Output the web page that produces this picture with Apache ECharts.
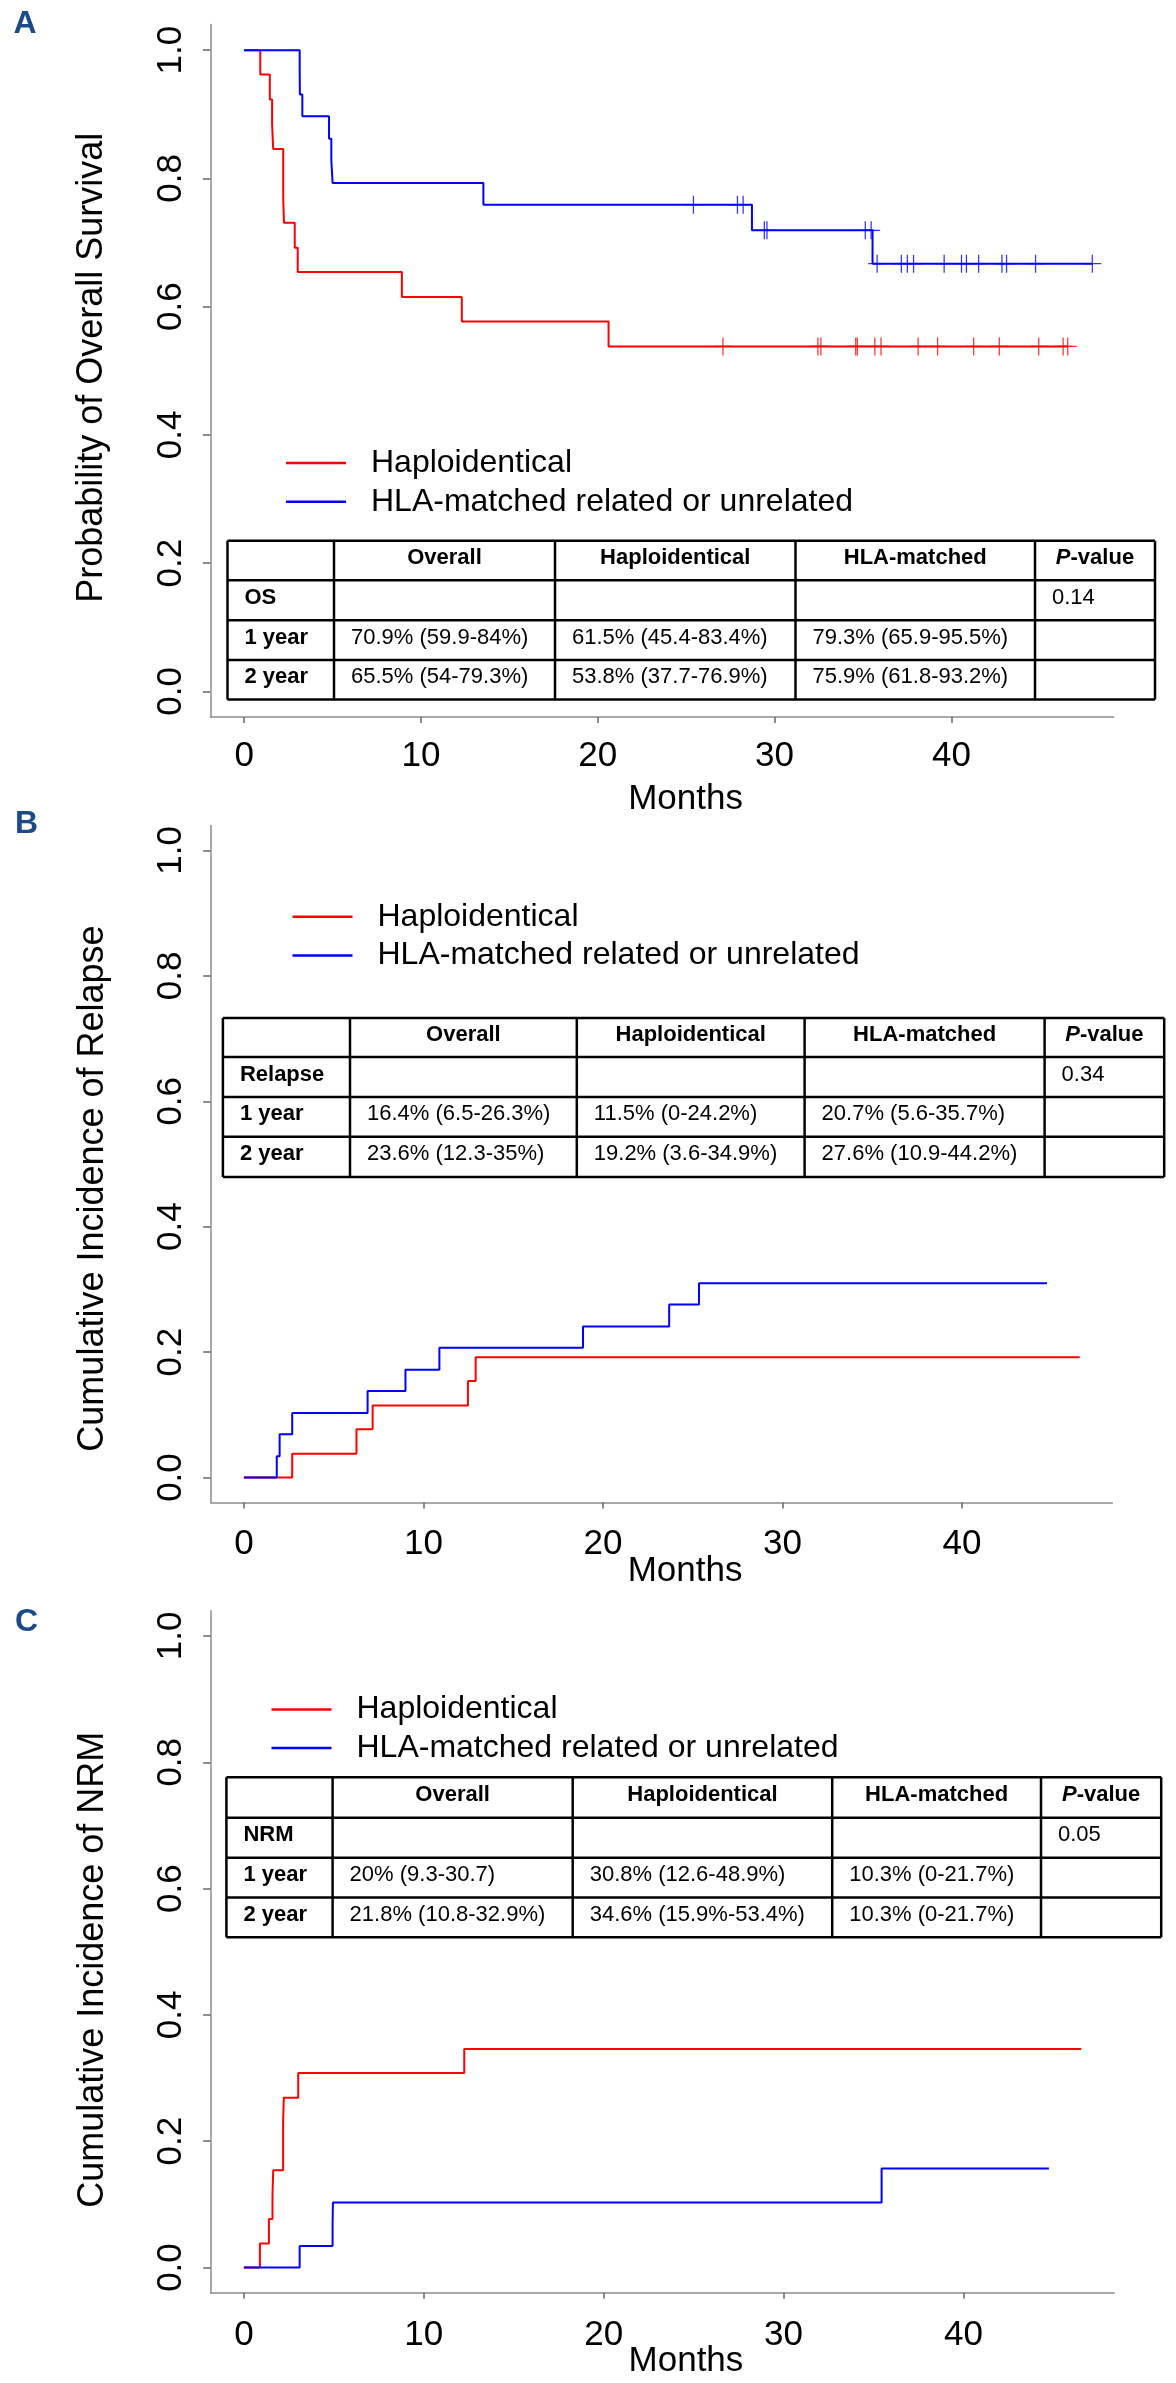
<!DOCTYPE html>
<html>
<head>
<meta charset="utf-8">
<script src="https://cdn.jsdelivr.net/npm/echarts@6/dist/echarts.min.js"></script>
<style>
html,body{margin:0;padding:0;background:#ffffff;}
#chart{width:1176px;height:2383px;}
</style>
</head>
<body>
<div id="chart"></div>
<script>
// ---------------- DATA ----------------
const seriesNames = ['Haploidentical', 'HLA-matched related or unrelated'];
const xTicks = [0, 10, 20, 30, 40];
const yTicks = [0, 0.2, 0.4, 0.6, 0.8, 1.0];
const panelLetters = ['A', 'B', 'C'];
const yTitles = ['Probability of Overall Survival', 'Cumulative Incidence of Relapse', 'Cumulative Incidence of NRM'];
const xTitle = 'Months';

// Panel A: overall survival (Kaplan-Meier)
const osHaploT = [0, 0.91, 1.45, 1.58, 1.64, 2.21, 2.25, 2.86, 3.03, 8.92, 12.31, 20.61, 46.58];
const osHaploS = [1, 0.962, 0.923, 0.885, 0.846, 0.769, 0.731, 0.692, 0.654, 0.615, 0.577, 0.538, 0.538];
const osHaploCensor = [27.08, 32.45, 32.62, 34.59, 34.68, 35.67, 36.02, 38.12, 39.22, 41.26, 42.71, 44.94, 46.32, 46.58];
const osHlaT = [0, 3.14, 3.15, 3.29, 4.80, 4.93, 5.00, 13.53, 28.72, 35.54, 47.97];
const osHlaS = [1, 0.966, 0.931, 0.897, 0.862, 0.828, 0.793, 0.759, 0.719, 0.667, 0.667];
const osHlaCensor = [25.41, 27.90, 28.22, 29.42, 29.57, 35.13, 35.46, 35.80, 37.17, 37.51, 37.86, 39.59, 40.57, 40.85, 41.54, 42.86, 43.12, 44.76, 47.97];

// Panel B: cumulative incidence of relapse
const relHaploT = [0, 2.69, 6.27, 7.17, 12.48, 12.91, 46.56];
const relHaploV = [0, 0.038, 0.077, 0.115, 0.154, 0.192, 0.192];
const relHlaT = [0, 1.83, 1.99, 2.69, 6.89, 9.00, 10.89, 18.89, 23.69, 25.35, 44.74];
const relHlaV = [0, 0.034, 0.069, 0.103, 0.138, 0.172, 0.207, 0.241, 0.276, 0.310, 0.310];

// Panel C: cumulative incidence of NRM
const nrmHaploT = [0, 0.89, 1.39, 1.59, 1.63, 2.18, 2.22, 3.02, 12.25, 46.55];
const nrmHaploV = [0, 0.038, 0.077, 0.115, 0.154, 0.231, 0.269, 0.308, 0.346, 0.346];
const nrmHlaT = [0, 3.10, 4.93, 4.95, 35.45, 44.75];
const nrmHlaV = [0, 0.034, 0.069, 0.103, 0.157, 0.157];

// Tables
const tableHeader = ['', 'Overall', 'Haploidentical', 'HLA-matched', 'P-value'];
const tableA = [
  ['OS', '', '', '', '0.14'],
  ['1 year', '70.9% (59.9-84%)', '61.5% (45.4-83.4%)', '79.3% (65.9-95.5%)', ''],
  ['2 year', '65.5% (54-79.3%)', '53.8% (37.7-76.9%)', '75.9% (61.8-93.2%)', '']
];
const tableB = [
  ['Relapse', '', '', '', '0.34'],
  ['1 year', '16.4% (6.5-26.3%)', '11.5% (0-24.2%)', '20.7% (5.6-35.7%)', ''],
  ['2 year', '23.6% (12.3-35%)', '19.2% (3.6-34.9%)', '27.6% (10.9-44.2%)', '']
];
const tableC = [
  ['NRM', '', '', '', '0.05'],
  ['1 year', '20% (9.3-30.7)', '30.8% (12.6-48.9%)', '10.3% (0-21.7%)', ''],
  ['2 year', '21.8% (10.8-32.9%)', '34.6% (15.9%-53.4%)', '10.3% (0-21.7%)', '']
];

// ---------------- LAYOUT / STYLE ----------------
const FONT = '"Liberation Sans", Arial, Helvetica, sans-serif';
const RED = '#ff0000';
const BLUE = '#0000ff';
const LETTER_COLOR = '#1c4a87';

const layout = [
  { grid: { left: 210.4, top: 24.5, width: 903.3, height: 692.5 }, xRange: [-1.91, 49.18],
    letterPos: [13.4, 24.4], xLabelMargin: 22, xNameGap: 65, yNamePad: [0, 0, 0, 6],
    legend: { left: 286, top: 447 },
    table: { xs: [227.5, 334, 555, 795.5, 1035, 1155], ys: [540.7, 580.2, 620.3, 660.1, 699.6] } },
  { grid: { left: 210.7, top: 825.4, width: 901.7, height: 677.2 }, xRange: [-1.85, 48.38],
    letterPos: [15, 823.8], xLabelMargin: 24, xNameGap: 51.4, yNamePad: [0, 49, 0, 0],
    legend: { left: 292.5, top: 900.8 },
    table: { xs: [222.9, 350, 576.8, 804.6, 1044.6, 1164.2], ys: [1017.9, 1057.1, 1096.9, 1136.7, 1177] } },
  { grid: { left: 210.7, top: 1610.7, width: 903.5, height: 682.1 }, xRange: [-1.845, 48.38],
    letterPos: [15, 1621.8], xLabelMargin: 25, xNameGap: 51.4, yNamePad: [0, 36, 0, 0],
    legend: { left: 271.5, top: 1693.4 },
    table: { xs: [226.4, 332.6, 572.7, 832.2, 1041, 1161.2], ys: [1777.3, 1817.8, 1857.8, 1897.5, 1937.3] } }
];
const tables = [tableA, tableB, tableC];

const curves = [
  [[osHaploT, osHaploS, RED, osHaploCensor], [osHlaT, osHlaS, BLUE, osHlaCensor]],
  [[relHaploT, relHaploV, RED, null], [relHlaT, relHlaV, BLUE, null]],
  [[nrmHaploT, nrmHaploV, RED, null], [nrmHlaT, nrmHlaV, BLUE, null]]
];

// ---------------- BUILD ----------------
function pairs(ts, vs) { return ts.map((t, i) => [t, vs[i]]); }
function stepAt(ts, vs, t) {
  let v = vs[0];
  for (let i = 0; i < ts.length; i++) { if (ts[i] <= t) v = vs[i]; }
  return v;
}
const PLUS = 'path://M-0.07,-1L0.07,-1L0.07,1L-0.07,1Z M-1,-0.07L1,-0.07L1,0.07L-1,0.07Z';

const grids = [], xAxes = [], yAxes = [], series = [], legends = [], graphics = [];

layout.forEach((L, p) => {
  grids.push(Object.assign({ containLabel: false, outerBoundsMode: 'none' }, L.grid));
  xAxes.push({
    type: 'value', gridIndex: p, min: L.xRange[0], max: L.xRange[1],
    name: xTitle, nameLocation: 'middle', nameGap: L.xNameGap, nameMoveOverlap: false,
    nameTextStyle: { fontFamily: FONT, fontSize: 35, lineHeight: 35, color: '#000', padding: [0, 0, 0, 47] },
    axisLine: { show: true, onZero: false, lineStyle: { color: '#8c8c8c', width: 1.5 } },
    axisTick: { show: true, customValues: xTicks, length: 6, lineStyle: { color: '#666', width: 1.5 } },
    axisLabel: { customValues: xTicks, margin: L.xLabelMargin, fontFamily: FONT, fontSize: 35, lineHeight: 35, color: '#000',
      formatter: v => String(Math.round(v)) },
    splitLine: { show: false }
  });
  yAxes.push({
    type: 'value', gridIndex: p, min: -0.04, max: 1.04,
    name: yTitles[p], nameLocation: 'middle', nameGap: 100, nameRotate: 90, nameMoveOverlap: false,
    nameTextStyle: { fontFamily: FONT, fontSize: 36, lineHeight: 36, color: '#000', padding: L.yNamePad },
    axisLine: { show: true, onZero: false, lineStyle: { color: '#8c8c8c', width: 1.5 } },
    axisTick: { show: true, customValues: yTicks, length: 7.5, lineStyle: { color: '#666', width: 1.5 } },
    axisLabel: { customValues: yTicks, rotate: 90, margin: 22, fontFamily: FONT, fontSize: 35, lineHeight: 35, color: '#000',
      formatter: v => v.toFixed(1) },
    splitLine: { show: false }
  });

  curves[p].forEach((c, k) => {
    const [ts, vs, col, cens] = c;
    series.push({
      name: seriesNames[k], type: 'line', step: 'end', xAxisIndex: p, yAxisIndex: p,
      data: pairs(ts, vs), showSymbol: false, symbol: 'none', animation: false, z: 3 + k,
      itemStyle: { color: col }, lineStyle: { color: col, width: 2 }, emphasis: { disabled: true }
    });
    if (cens) {
      series.push({
        name: seriesNames[k] + ' (censored)', type: 'scatter', xAxisIndex: p, yAxisIndex: p,
        data: cens.map(t => [t, stepAt(ts, vs, t)]), symbol: PLUS, symbolSize: 18, animation: false, z: 5,
        itemStyle: { color: col, opacity: 0.8 }, emphasis: { disabled: true }, silent: true
      });
    }
  });

  legends.push({
    orient: 'vertical', left: L.legend.left, top: L.legend.top, padding: 0, itemGap: 6.7,
    itemWidth: 60, itemHeight: 2.5, icon: 'rect', selectedMode: false,
    textStyle: { fontFamily: FONT, fontSize: 32, lineHeight: 32, color: '#000', padding: [0, 0, 0, 20] },
    data: seriesNames
  });

  // panel letter
  graphics.push({
    type: 'text', x: L.letterPos[0], y: L.letterPos[1], z: 10,
    style: { text: panelLetters[p], fill: LETTER_COLOR, font: 'bold 32px ' + FONT,
      align: 'left', verticalAlign: 'middle', textAlign: 'left', textVerticalAlign: 'middle' }
  });

  // table
  const T = L.table, rows = [tableHeader].concat(tables[p]);
  const x0 = T.xs[0], x1 = T.xs[T.xs.length - 1], y0 = T.ys[0], y1 = T.ys[T.ys.length - 1];
  T.ys.forEach(y => graphics.push({ type: 'line', z: 8, shape: { x1: x0, y1: y, x2: x1, y2: y },
    style: { stroke: '#000', lineWidth: 2.5 } }));
  T.xs.forEach(x => graphics.push({ type: 'line', z: 8, shape: { x1: x, y1: y0, x2: x, y2: y1 },
    style: { stroke: '#000', lineWidth: 2.5 } }));
  rows.forEach((row, r) => {
    const cy = (T.ys[r] + T.ys[r + 1]) / 2 - 2.5;
    row.forEach((txt, c) => {
      if (!txt) return;
      const header = r === 0;
      const bold = header || c === 0;
      let style;
      if (header) {
        const cx = (T.xs[c] + T.xs[c + 1]) / 2;
        if (txt === 'P-value') {
          style = { text: '{i|P}{b|-value}', x: cx, y: cy,
            rich: { i: { fontFamily: FONT, fontSize: 22, fontWeight: 'bold', fontStyle: 'italic', fill: '#000' },
                    b: { fontFamily: FONT, fontSize: 22, fontWeight: 'bold', fill: '#000' } } };
        } else {
          style = { text: txt, x: cx, y: cy, font: 'bold 22px ' + FONT };
        }
        Object.assign(style, { fill: '#000', align: 'center', verticalAlign: 'middle', textAlign: 'center', textVerticalAlign: 'middle' });
      } else {
        style = { text: txt, x: T.xs[c] + 17, y: cy, font: (bold ? 'bold ' : '') + '22px ' + FONT,
          fill: '#000', align: 'left', verticalAlign: 'middle', textAlign: 'left', textVerticalAlign: 'middle' };
      }
      graphics.push({ type: 'text', z: 9, style: style });
    });
  });
});

const chart = echarts.init(document.getElementById('chart'), null, { renderer: 'canvas', width: 1176, height: 2383 });
chart.setOption({
  backgroundColor: '#ffffff',
  animation: false,
  textStyle: { fontFamily: FONT },
  grid: grids,
  xAxis: xAxes,
  yAxis: yAxes,
  legend: legends,
  series: series,
  graphic: { elements: graphics }
});
</script>
</body>
</html>
